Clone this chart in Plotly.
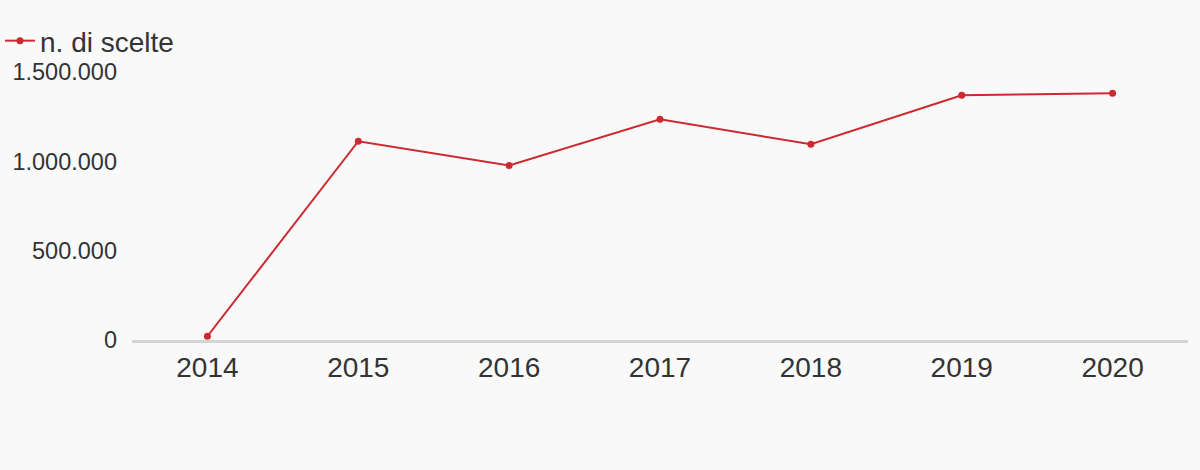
import plotly.graph_objects as go

years = ["2014", "2015", "2016", "2017", "2018", "2019", "2020"]
scelte = [21000, 1113000, 977000, 1236000, 1096000, 1371000, 1382000]
series_name = "n. di scelte"
y_ticks = [0, 500000, 1000000, 1500000]

RED = "#cc2a30"
TXT = "#333333"
BG = "#f9f9f9"
FONT = "Liberation Sans, Arial, Helvetica, sans-serif"

fig = go.Figure()
fig.add_trace(go.Scatter(
    x=years, y=scelte, name=series_name, mode="lines+markers",
    line=dict(color=RED, width=2), marker=dict(color=RED, size=7),
    showlegend=True,
))

fig.update_layout(
    width=1200, height=470,
    paper_bgcolor=BG, plot_bgcolor=BG,
    separators=",.",
    font=dict(family=FONT, color=TXT),
    margin=dict(l=132, r=12, t=60, b=130, pad=0, autoexpand=False),
    showlegend=True,
    legend=dict(x=-132 / 1056, xanchor="left", y=1.068, yanchor="middle",
                orientation="h", font=dict(size=28, color=TXT),
                bgcolor="rgba(0,0,0,0)"),
    xaxis=dict(type="category", range=[-0.5, 6.5], showgrid=False,
               showline=True, linecolor="#d4d4d4", linewidth=3,
               ticks="", tickfont=dict(size=28, color=TXT), automargin=False,
               ticklabelstandoff=0, layer="below traces", zeroline=False),
    yaxis=dict(range=[0, 1568000], tickvals=y_ticks, tickformat=",d",
               showgrid=False, zeroline=False, showline=False, ticks="",
               automargin=False,
               tickfont=dict(size=23.5, color=TXT), ticklabelstandoff=14),
)

fig.write_html("out.html", config={"displayModeBar": False},
               post_script="document.body.style.margin='0';")
